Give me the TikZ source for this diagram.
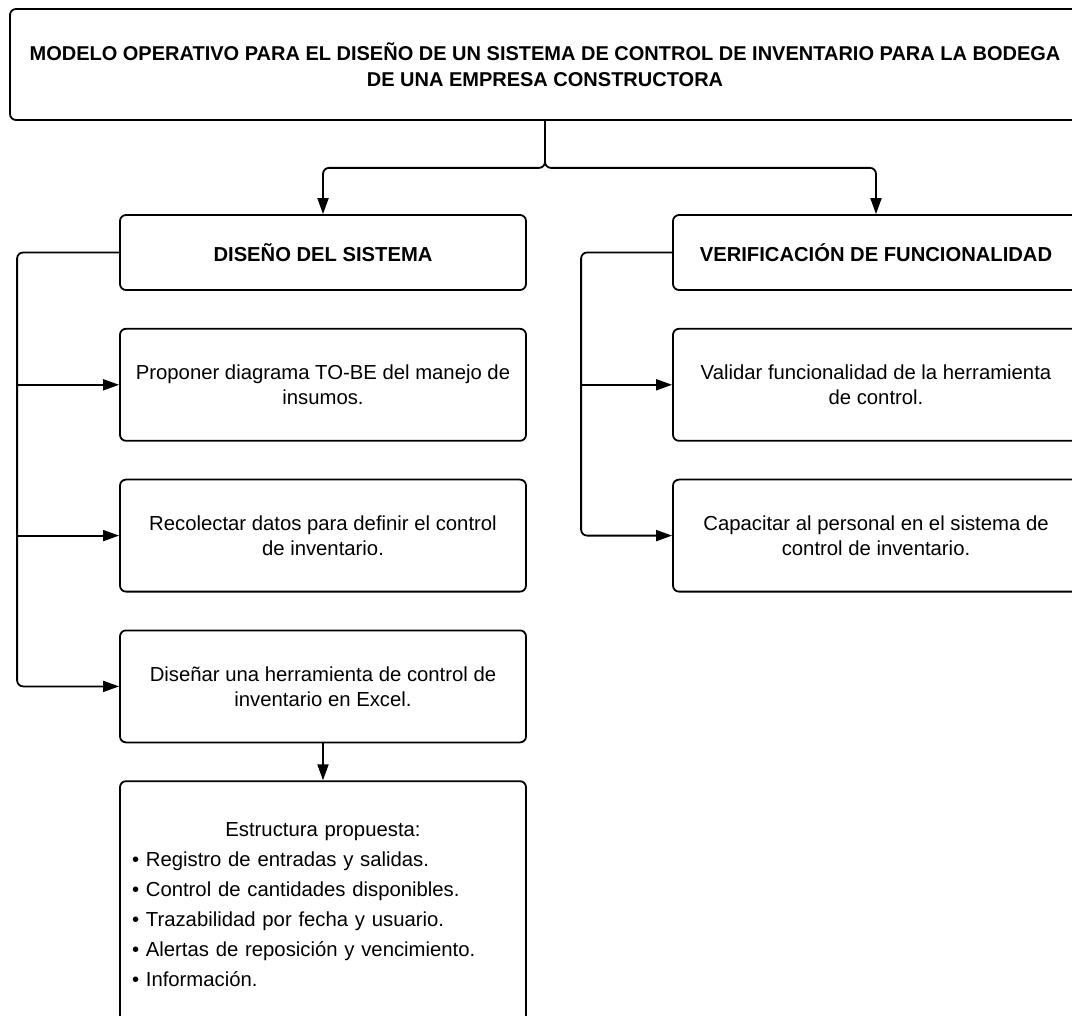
\documentclass[tikz,border=0pt]{standalone}
\usepackage{fontspec}
\setmainfont{Liberation Sans}
\usetikzlibrary{positioning,arrows.meta}
\newcommand{\itemline}[1]{\makebox[\linewidth][l]{\textbullet\ #1}}

\begin{document}
\begin{tikzpicture}[x=1pt,y=-1pt,node distance=37pt,
  every node/.style={align=center,font=\fontsize{20.3}{25}\selectfont},
  box/.style={draw,rounded corners=6pt,line width=1.8pt,minimum width=406pt,minimum height=112pt,inner sep=0pt},
  headbox/.style={box,minimum height=75pt,font=\fontsize{20.2}{25}\selectfont\bfseries},
  link/.style={line width=1.8pt,rounded corners=6pt},
  arrow/.style={link,-{Triangle[length=16pt,width=11pt]}}]
  \useasboundingbox (0,0) rectangle (1072,1016);
  \clip (0,0) rectangle (1072,1016);
  \node[box,minimum width=1070pt,minimum height=111pt,font=\fontsize{20}{26}\selectfont\bfseries] (title) at (545,64.5) {MODELO OPERATIVO PARA EL DISEÑO DE UN SISTEMA DE CONTROL DE INVENTARIO PARA LA BODEGA\\DE UNA EMPRESA CONSTRUCTORA};
  % left branch
  \node[headbox] (design) at (323,252.5) {DISEÑO DEL SISTEMA};
  \node[box,below=of design] (tobe) {Proponer diagrama TO-BE del manejo de\\insumos.};
  \node[box,below=of tobe] (data) {Recolectar datos para definir el control\\de inventario.};
  \node[box,below=of data] (excel) {Diseñar una herramienta de control de\\inventario en Excel.};
  \node[box,below=of excel,minimum height=247pt,text width=382pt,font=\fontsize{20.3}{30}\selectfont] (struct) {Estructura propuesta:\\\itemline{Registro de entradas y salidas.}\\\itemline{Control de cantidades disponibles.}\\\itemline{Trazabilidad por fecha y usuario.}\\\itemline{Alertas de reposición y vencimiento.}\\\itemline{Información.}};
  % right branch
  \node[headbox] (verify) at (876,252.5) {VERIFICACIÓN DE FUNCIONALIDAD};
  \node[box,below=of verify] (check) {Validar funcionalidad de la herramienta\\de control.};
  \node[box,below=of check] (train) {Capacitar al personal en el sistema de\\control de inventario.};
  % connectors
  \draw[arrow] (title.south) -- ++(0,47) -| (design.north);
  \draw[arrow] (title.south) -- ++(0,47) -| (verify.north);
  \coordinate (lbus) at ([xshift=-102pt]design.west);
  \draw[arrow] (design.west) -- (lbus) |- (excel.west);
  \draw[arrow] (lbus |- tobe.west) -- (tobe.west);
  \draw[arrow] (lbus |- data.west) -- (data.west);
  \draw[arrow] (excel.south) -- (struct.north);
  \coordinate (rbus) at ([xshift=-91pt]verify.west);
  \draw[arrow] (verify.west) -- (rbus) |- (train.west);
  \draw[arrow] (rbus |- check.west) -- (check.west);
\end{tikzpicture}
\end{document}
